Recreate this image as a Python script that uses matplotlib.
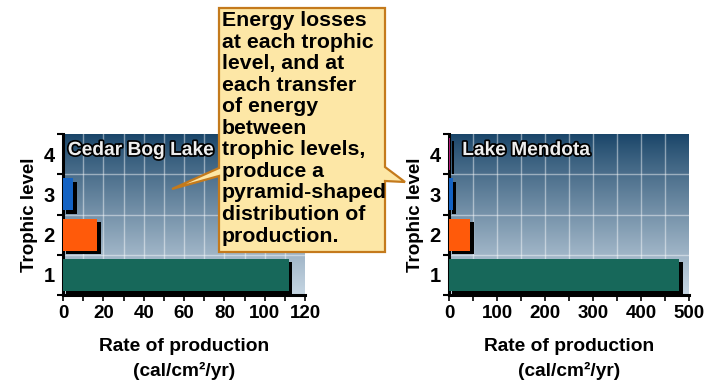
import numpy as np
import matplotlib
matplotlib.use("Agg")
import matplotlib.pyplot as plt
import matplotlib.patheffects as pe
from matplotlib.patches import Polygon
from matplotlib.ticker import MultipleLocator

plt.rcParams["font.family"] = ["Liberation Sans", "DejaVu Sans"]
plt.rcParams["font.weight"] = "bold"

# data
levels = [1, 2, 3, 4]
cedar_bog = [112, 17, 5, 0]
mendota = [480, 44, 8, 3]
level_colors = ["#17685a", "#ff5a0a", "#1463c4", "#b01a78"]
callout_text = ("Energy losses\nat each trophic\nlevel, and at\neach transfer\nof energy\n"
                "between\ntrophic levels,\nproduce a\npyramid-shaped\ndistribution of\nproduction.")

W, H = 713, 382
fig = plt.figure(figsize=(W / 100, H / 100), dpi=100)


def px(x0, y0, x1, y1):
    return [x0 / W, 1 - y1 / H, (x1 - x0) / W, (y1 - y0) / H]


def draw_panel(rect, values, xmax, major, minor, title, title_x):
    ax = fig.add_axes(rect)
    # gradient background, dark at the top
    grad = np.linspace(0, 1, 256).reshape(-1, 1)
    top = np.array([0.10, 0.27, 0.41])
    bot = np.array([0.78, 0.84, 0.89])
    img = top + (bot - top) * grad[..., None] ** 0.9
    ax.imshow(img.reshape(256, 1, 3), extent=[0, xmax, 0.5, 4.5], aspect="auto",
              origin="upper", zorder=0)
    ax.set_xlim(0, xmax)
    ax.set_ylim(0.5, 4.5)

    for v in np.arange(minor, xmax, minor):
        ax.axvline(v, color="white", alpha=0.45, lw=1, zorder=1)
    for y in [1.5, 2.5, 3.5]:
        ax.axhline(y, color="white", alpha=0.45, lw=1, zorder=1)

    bars = ax.barh(levels, values, height=0.8, color=level_colors, zorder=3)
    for b in bars:
        b.set_path_effects([pe.SimplePatchShadow(offset=(2.5, -2.5), shadow_rgbFace="black", alpha=1),
                            pe.Normal()])

    ax.xaxis.set_major_locator(MultipleLocator(major))
    ax.xaxis.set_minor_locator(MultipleLocator(minor))
    ax.set_yticks(levels)
    ax.set_yticks([0.5, 1.5, 2.5, 3.5, 4.5], minor=True)
    ax.tick_params(axis="y", which="major", length=0, labelsize=14.5, pad=6)
    ax.tick_params(axis="y", which="minor", length=4, width=1.5, direction="out")
    ax.tick_params(axis="x", which="both", length=4, width=1.2, direction="out", labelsize=13.5, pad=3)
    for s in ["top", "right"]:
        ax.spines[s].set_visible(False)
    ax.spines["left"].set_linewidth(2.2)
    ax.spines["bottom"].set_linewidth(2.2)

    ax.set_ylabel("Trophic level", fontsize=13.5, fontweight="bold", labelpad=4)
    ax.set_xlabel("Rate of production\n(cal/cm²/yr)", fontsize=13.8, fontweight="bold",
                  labelpad=12, linespacing=1.5)

    t = ax.text(title_x, 0.95, title, transform=ax.transAxes, ha="left", va="top",
                fontsize=13.8, fontweight="bold", color="#eeeeee", zorder=5)
    t.set_path_effects([pe.withStroke(linewidth=2.5, foreground="black")])
    return ax


draw_panel(px(63, 134, 305, 295), cedar_bog, 120, 20, 10, "Cedar Bog Lake", 0.02)
draw_panel(px(449, 134, 689, 295), mendota, 500, 100, 50, "Lake Mendota", 0.055)

# callout box with two pointers
outline = [(219, 8), (385, 8), (385, 167), (405, 182), (385, 181), (385, 252),
           (219, 252), (219, 176), (172, 189), (219, 168)]
poly = Polygon([(x / W, 1 - y / H) for x, y in outline], closed=True,
               transform=fig.transFigure, facecolor="#fde7a6", edgecolor="#c47a1c",
               linewidth=1.6, zorder=10)
fig.add_artist(poly)
fig.text(222 / W, 1 - 11 / H, callout_text, ha="left", va="top", fontsize=15.3,
         fontweight="bold", color="black", linespacing=1.17, zorder=11)

fig.savefig("out.png", dpi=100)
